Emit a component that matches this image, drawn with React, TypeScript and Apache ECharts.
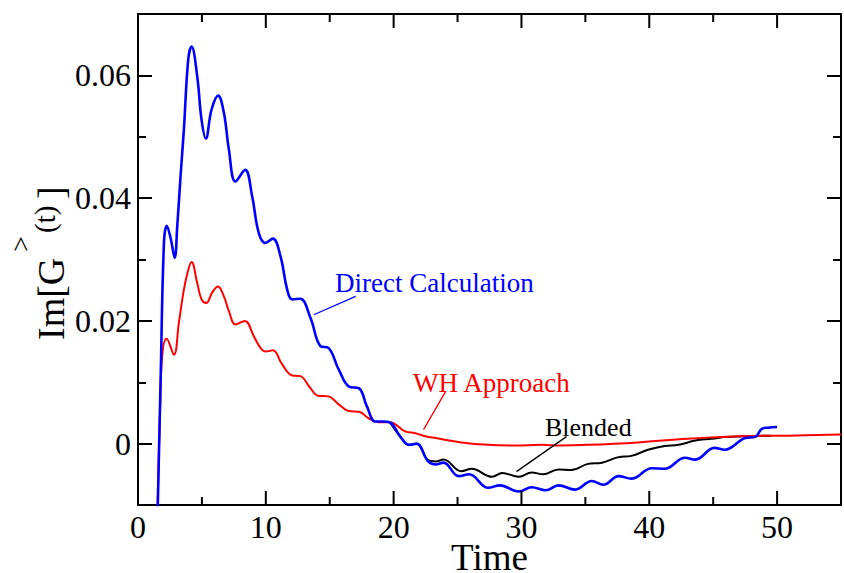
import React, { useEffect, useRef } from "react";
import * as echarts from "echarts";

// ---- data ----
const directTime = [
  1.5, 1.77, 2.03, 2.25, 2.55, 2.87, 3.07, 3.33, 3.59, 3.93, 4.19, 4.63, 4.97, 5.31, 5.75, 6.27, 6.72, 7.11, 7.63,
  8.38, 8.93, 9.45, 9.97, 10.55, 11.15, 11.67, 12.06, 12.7, 13.49, 14.27, 14.9, 15.7, 16.5, 17.3, 17.9, 18.57,
  19.1, 19.74, 20.5, 21.2, 21.8, 22.7, 23.3, 23.9, 25.1, 25.9, 27.4, 28.3, 29.8, 30.8, 31.9, 32.9, 34.2, 35.5,
  36.4, 37.6, 38.6, 40.2, 41.2, 42.8, 43.6, 45.1, 45.9, 47.5, 48.3, 48.8, 49.3, 50.0,
];
const directValue = [
  -0.0145, 0.0104, 0.0327, 0.0355, 0.0335, 0.0303, 0.0354, 0.0436, 0.0512, 0.0626, 0.0647, 0.0599, 0.0528, 0.0497,
  0.0544, 0.0567, 0.0539, 0.0479, 0.0427, 0.0446, 0.0403, 0.0343, 0.0327, 0.0334, 0.0305, 0.0251, 0.0235,
  0.0236, 0.0205, 0.0159, 0.0156, 0.0121, 0.0093, 0.009, 0.0061, 0.0036, 0.0036, 0.0034, 0.0012, -0.0002, 0.0,
  -0.0029, -0.0034, -0.0031, -0.0053, -0.005, -0.0072, -0.0068, -0.0078, -0.0071, -0.0076, -0.0068, -0.0075,
  -0.0061, -0.0067, -0.0053, -0.0057, -0.004, -0.0041, -0.0023, -0.0026, -0.0007, -0.001, 0.0009, 0.0011,
  0.0024, 0.0026, 0.0027,
];

const whTime = [
  1.5, 1.72, 1.9, 2.24, 2.81, 3.2, 3.59, 3.93, 4.19, 4.63, 4.97, 5.34, 5.8, 6.25, 6.72, 7.11, 7.63, 8.36,
  9.06, 9.58, 9.97, 10.55, 11.28, 12.06, 12.7, 13.4, 14.1, 14.9, 15.7, 16.5, 17.3, 18.0, 18.8, 19.7, 20.9,
  21.7, 22.5, 23.3, 25.3, 27.4, 29.5, 31.6, 33.0, 35.2, 39.1, 43.0, 47.0, 50.9, 55.0,
];
const whValue = [
  -0.013, 0.005, 0.0145, 0.0171, 0.0145, 0.0197, 0.0251, 0.0283, 0.0296, 0.0262, 0.0235, 0.0229, 0.0246,
  0.0256, 0.024, 0.0216, 0.0194, 0.02, 0.0175, 0.0156, 0.015, 0.0152, 0.0129, 0.0111, 0.011, 0.0093, 0.0078,
  0.0077, 0.0064, 0.0053, 0.0052, 0.0042, 0.0035, 0.0035, 0.002, 0.0017, 0.0012, 0.0009, 0.0002, -0.0002,
  -0.0003, -0.0002, -0.0003, -0.0002, 0.0002, 0.0008, 0.0012, 0.0013, 0.0015,
];

const blendedTime = [
  19.74, 20.5, 21.2, 21.8, 22.7, 23.3, 23.9, 25.3, 26.1, 27.7, 28.5, 29.8, 30.8, 31.7, 32.9, 33.9, 35.2, 36.3,
  37.6, 38.6, 39.9, 41.2, 42.3, 43.6, 44.9, 46.0, 47.5, 49.5,
];
const blendedValue = [
  0.0034, 0.0012, -0.0002, 0.0, -0.0027, -0.0029, -0.0026, -0.0045, -0.0041, -0.0054, -0.0048, -0.0054,
  -0.0047, -0.005, -0.0042, -0.0043, -0.0033, -0.0031, -0.0022, -0.002, -0.001, -0.0004, -0.0002, 0.0005,
  0.0008, 0.0011, 0.0012, 0.0013,
];

const seriesNames = ["Direct Calculation", "WH Approach", "Blended"];
const xTicks = [0, 10, 20, 30, 40, 50];
const xMajorTicks = [10, 20, 30, 40, 50];
const xMinorTicks = [5, 15, 25, 35, 45];
const yTickLabels = ["0", "0.02", "0.04", "0.06"];
const X_MIN = 0;
const X_MAX = 55;
const Y_MIN = -0.01;
const Y_MAX = 0.07;

// arrows: [from, to] in data coordinates
const directArrow = [[17.03, 0.024], [13.75, 0.021]];
const whArrow = [[24.06, 0.00848], [22.34, 0.00228]];
const blendedArrow = [[33.52, 0.00114], [29.61, -0.00456]];

const zip = (t: number[], v: number[]) => t.map((x, i) => [x, v[i]]);

const FONT = "'Liberation Serif', 'Times New Roman', serif";
const BLACK = "#000";
const MAJOR = 14;
const MINOR = 8;

function arrowLine(a: number[][], color: string) {
  return {
    silent: true,
    symbol: ["none", "arrow"],
    symbolSize: [0, 10],
    lineStyle: { color, width: 1.3, type: "solid" },
    label: { show: false },
    emphasis: { disabled: true },
    data: [[{ coord: a[0] }, { coord: a[1] }]],
  };
}

function xAxisBase(position: string) {
  return {
    type: "value",
    position,
    min: X_MIN,
    max: X_MAX,
    interval: 10,
    splitLine: { show: false },
    axisLine: { show: true, onZero: false, lineStyle: { color: BLACK, width: 2 } },
    axisTick: { show: false },
    minorTick: { show: false },
    axisLabel: { show: false },
  };
}

const textGraphics = [
  {
    type: "text",
    x: 335,
    y: 283,
    style: { text: "Direct Calculation", fill: "#0000ff", font: `27px ${FONT}`, verticalAlign: "middle", align: "left" },
  },
  {
    type: "text",
    x: 413,
    y: 383,
    style: { text: "WH Approach", fill: "#ff0000", font: `27px ${FONT}`, verticalAlign: "middle", align: "left" },
  },
  {
    type: "text",
    x: 545,
    y: 427,
    style: { text: "Blended", fill: BLACK, font: `26px ${FONT}`, verticalAlign: "middle", align: "left" },
  },
  {
    type: "group",
    x: 51,
    y: 259,
    rotation: Math.PI / 2,
    children: [
      { type: "text", x: -81, y: 0, style: { text: "Im[G", fill: BLACK, font: `38px ${FONT}`, verticalAlign: "middle", align: "left" } },
      { type: "text", x: 7, y: -31, style: { text: ">", fill: BLACK, font: `28px ${FONT}`, verticalAlign: "middle", align: "left" } },
      { type: "text", x: 26, y: -6, style: { text: "(t)", fill: BLACK, font: `29px ${FONT}`, verticalAlign: "middle", align: "left" } },
      { type: "text", x: 60, y: 0, style: { text: "]", fill: BLACK, font: `38px ${FONT}`, verticalAlign: "middle", align: "left" } },
    ],
  },
];

export default function App() {
  const ref = useRef<HTMLDivElement>(null);
  useEffect(() => {
    if (!ref.current) return;
    const chart = echarts.init(ref.current, undefined, { renderer: "svg" });
    const mkY = () => ({
      type: "value",
      min: Y_MIN,
      max: Y_MAX,
      splitNumber: 4,
      splitLine: { show: false },
      axisLine: { show: true, onZero: false, lineStyle: { color: BLACK, width: 2 } },
      axisTick: { show: true, inside: true, length: MAJOR, lineStyle: { color: BLACK, width: 2 } },
      minorTick: { show: true, splitNumber: 2, length: MINOR, lineStyle: { color: BLACK, width: 2 } },
      minorSplitLine: { show: false },
    });
    chart.setOption({
      animation: false,
      backgroundColor: "#fff",
      grid: { left: 138, right: 3, top: 14, bottom: 68, containLabel: false, outerBoundsMode: "none" },
      xAxis: [
        {
          ...xAxisBase("bottom"),
          name: "Time",
          nameLocation: "middle",
          nameGap: 36,
          nameMoveOverlap: false,
          nameTextStyle: { fontFamily: FONT, fontSize: 37, lineHeight: 32, color: BLACK },
          axisLabel: {
            show: true,
            margin: 6,
            fontFamily: FONT,
            fontSize: 32,
            color: BLACK,
            formatter: (v: number) => (xTicks.indexOf(v) >= 0 ? String(v) : ""),
          },
        },
        xAxisBase("top"),
      ],
      yAxis: [
        {
          ...mkY(),
          position: "left",
          axisLabel: {
            show: true,
            margin: 7,
            fontFamily: FONT,
            fontSize: 32,
            color: BLACK,
            showMinLabel: false,
            showMaxLabel: false,
            formatter: (v: number) => {
              const k = Math.round(v / 0.02);
              if (Math.abs(v - k * 0.02) > 1e-9) return "";
              return yTickLabels[k] ?? "";
            },
          },
        },
        { ...mkY(), position: "right", axisLabel: { show: false } },
      ],
      series: [
        {
          name: seriesNames[2],
          type: "line",
          data: zip(blendedTime, blendedValue),
          showSymbol: false,
          smooth: 0.4,
          lineStyle: { color: BLACK, width: 2 },
          markLine: arrowLine(blendedArrow, BLACK),
          z: 2,
        },
        {
          name: seriesNames[1],
          type: "line",
          data: zip(whTime, whValue),
          showSymbol: false,
          smooth: 0.4,
          lineStyle: { color: "#ff0000", width: 2 },
          markLine: arrowLine(whArrow, "#ff0000"),
          z: 3,
        },
        {
          name: seriesNames[0],
          type: "line",
          data: zip(directTime, directValue),
          showSymbol: false,
          smooth: 0.4,
          lineStyle: { color: "#0000ff", width: 2.6 },
          markLine: arrowLine(directArrow, "#0000ff"),
          z: 4,
        },
      ],
      graphic: textGraphics,
    });

    // inward x-axis ticks on bottom and top, positioned through the x axis scale
    const tickGraphics: any[] = [];
    const addTick = (v: number, len: number) => {
      const b = chart.convertToPixel({ xAxisIndex: 0, yAxisIndex: 0 }, [v, Y_MIN]) as number[];
      const t = chart.convertToPixel({ xAxisIndex: 0, yAxisIndex: 0 }, [v, Y_MAX]) as number[];
      if (!b || !t) return;
      const st = { stroke: BLACK, lineWidth: 2 };
      tickGraphics.push({ type: "line", silent: true, z: 100, shape: { x1: b[0], y1: b[1], x2: b[0], y2: b[1] - len }, style: st });
      tickGraphics.push({ type: "line", silent: true, z: 100, shape: { x1: t[0], y1: t[1], x2: t[0], y2: t[1] + len }, style: st });
    };
    xMajorTicks.forEach((v) => addTick(v, MAJOR));
    xMinorTicks.forEach((v) => addTick(v, MINOR));
    chart.setOption({ graphic: [...textGraphics, ...tickGraphics] });

    return () => chart.dispose();
  }, []);
  return <div ref={ref} style={{ position: "absolute", left: 0, top: 0, width: 844, height: 573 }} />;
}
